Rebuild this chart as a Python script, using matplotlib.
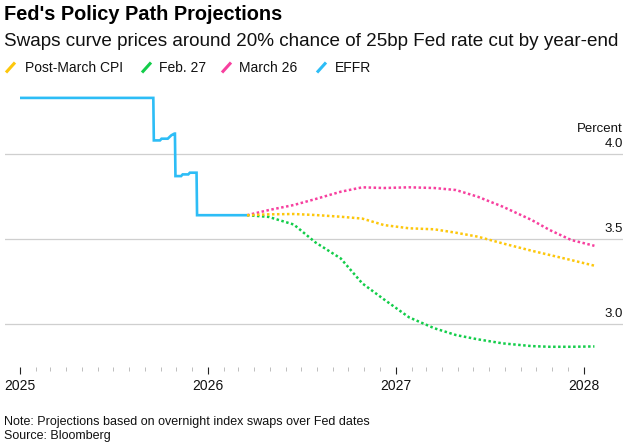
import matplotlib
matplotlib.use("Agg")
import matplotlib.pyplot as plt
import matplotlib.dates as mdates
import matplotlib.transforms as mtransforms
from matplotlib.lines import Line2D
import datetime as dt

plt.rcParams['font.family'] = ['Liberation Sans', 'DejaVu Sans']

# ---------------- data ----------------
effr_dates = ["2025-01-01", "2025-09-17", "2025-09-18", "2025-09-30", "2025-10-03",
              "2025-10-15", "2025-10-22", "2025-10-28", "2025-10-29", "2025-10-30",
              "2025-11-10", "2025-11-13", "2025-11-24", "2025-11-27", "2025-12-10",
              "2025-12-11", "2026-03-18"]
effr_values = [4.33, 4.33, 4.08, 4.08, 4.09, 4.09, 4.11, 4.12, 4.12, 3.87,
               3.87, 3.88, 3.88, 3.89, 3.89, 3.64, 3.64]

proj_dates = ["2026-03-18", "2026-04-29", "2026-06-17", "2026-07-29", "2026-09-16",
              "2026-10-28", "2026-12-09", "2027-01-27", "2027-03-17", "2027-04-28",
              "2027-06-09", "2027-07-28", "2027-09-22", "2027-10-27", "2027-12-08",
              "2028-01-22"]
post_march_cpi = [3.64, 3.645, 3.647, 3.641, 3.631, 3.62, 3.582, 3.563, 3.557, 3.537,
                  3.514, 3.474, 3.431, 3.406, 3.376, 3.343]
feb_27 = [3.64, 3.63, 3.585, 3.48, 3.386, 3.239, 3.145, 3.039, 2.975, 2.935,
          2.91, 2.886, 2.87, 2.866, 2.866, 2.868]
march_26 = [3.64, 3.67, 3.70, 3.735, 3.778, 3.804, 3.80, 3.804, 3.80, 3.788,
            3.749, 3.69, 3.612, 3.553, 3.494, 3.46]

y_ticks = [3.0, 3.5, 4.0]
y_tick_labels = ["3.0", "3.5", "4.0"]
x_years = [2025, 2026, 2027, 2028]

legend_labels = ["Post-March CPI", "Feb. 27", "March 26", "EFFR"]
colors = {"Post-March CPI": "#fdc70c", "Feb. 27": "#13cd4a",
          "March 26": "#f7409f", "EFFR": "#2dbdf6"}

# ---------------- figure ----------------
W, H = 643, 442
fig = plt.figure(figsize=(W / 100, H / 100), dpi=100)

def fx(x):
    return x / W

def fy(y):
    return 1 - y / H

ax_left, ax_right, ax_top, ax_bottom = 5, 623, 86, 367
ax = fig.add_axes([fx(ax_left), fy(ax_bottom), (ax_right - ax_left) / W,
                   (ax_bottom - ax_top) / H])

to_d = lambda s: dt.datetime.strptime(s, "%Y-%m-%d")
ed = [to_d(s) for s in effr_dates]
pd_ = [to_d(s) for s in proj_dates]

dot = dict(lw=1.8, linestyle=(0, (1, 1)), dash_capstyle='butt', solid_capstyle='butt')
ax.plot(pd_, feb_27, color=colors["Feb. 27"], **dot, zorder=3)
ax.plot(pd_, march_26, color=colors["March 26"], **dot, zorder=3)
ax.plot(pd_, post_march_cpi, color=colors["Post-March CPI"], **dot, zorder=4)
ax.plot(ed, effr_values, color=colors["EFFR"], lw=1.9, zorder=5,
        solid_joinstyle='miter', solid_capstyle='butt')

# limits
base = mdates.date2num(dt.datetime(2025, 1, 1))
px_per_day = 188 / 365.25
ax.set_xlim(base - 15 / px_per_day, base + 603 / px_per_day)
ax.set_ylim(4.0 - (ax_bottom - 154) / 170, 4.0 + (154 - ax_top) / 170)

for s in ax.spines.values():
    s.set_visible(False)

# grid
for v in y_ticks:
    ax.axhline(v, color="#cfcfcf", lw=0.9, zorder=1)
ax.set_yticks([])

# y labels
off = mtransforms.offset_copy(ax.get_yaxis_transform(), fig=fig, x=0, y=7, units='dots')
for v, lab in zip(y_ticks, y_tick_labels):
    ax.text(1.0, v, lab, transform=off, ha='right', va='baseline', fontsize=9.5,
            color="#111111")
off2 = mtransforms.offset_copy(ax.get_yaxis_transform(), fig=fig, x=0, y=22, units='dots')
ax.text(1.0, 4.0, "Percent", transform=off2, ha='right', va='baseline', fontsize=9.5,
        color="#111111")

# x ticks
ax.set_xticks([dt.datetime(y, 1, 1) for y in x_years])
ax.set_xticklabels([str(y) for y in x_years])
minor = [dt.datetime(y, m, 1) for y in range(2025, 2028) for m in range(2, 13)]
ax.set_xticks(minor, minor=True)
ax.tick_params(axis='x', which='major', direction='out', length=5, width=0.8,
               color="#222222", labelsize=10, pad=4, labelcolor="#111111")
ax.tick_params(axis='x', which='minor', direction='out', length=3, width=0.7,
               color="#bdbdbd")

# titles
fig.text(fx(4), fy(19.5), "Fed's Policy Path Projections", fontsize=14.4, fontweight='bold',
         ha='left', va='baseline', color="#000000")
fig.text(fx(4), fy(45.5), "Swaps curve prices around 20% chance of 25bp Fed rate cut by year-end",
         fontsize=13.6, ha='left', va='baseline', color="#111111")

# legend
leg_pos = [(6, 25), (142, 159), (222, 239), (317, 335)]
for lab, (mx, tx) in zip(legend_labels, leg_pos):
    fig.add_artist(Line2D([fx(mx), fx(mx + 9)], [fy(72.5), fy(62.5)],
                          transform=fig.transFigure, color=colors[lab], lw=2.2,
                          solid_capstyle='butt'))
    fig.text(fx(tx), fy(71.5), lab, fontsize=10, ha='left', va='baseline', color="#111111")

# footnotes
fig.text(fx(4), fy(425), "Note: Projections based on overnight index swaps over Fed dates",
         fontsize=9, ha='left', va='baseline', color="#111111")
fig.text(fx(4), fy(438.5), "Source: Bloomberg", fontsize=9, ha='left', va='baseline',
         color="#111111")

fig.savefig("out.png", dpi=100)
